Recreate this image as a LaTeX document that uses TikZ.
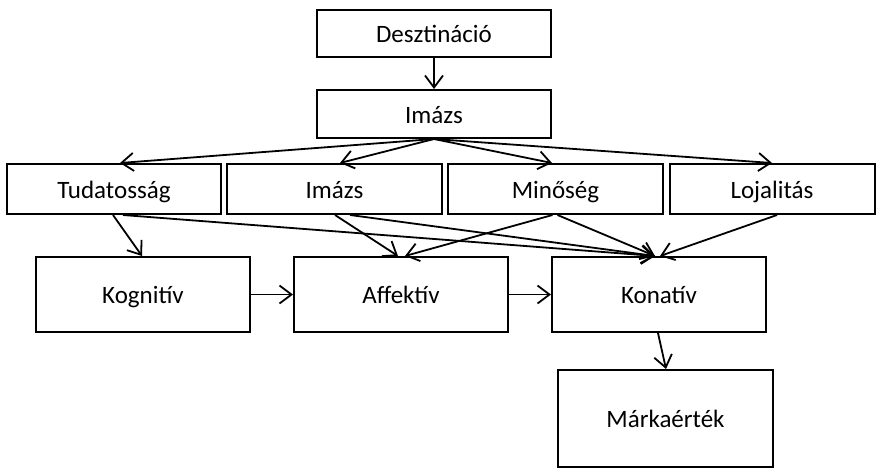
\documentclass[tikz,border=0pt]{standalone}
\usepackage{fontspec}
\setmainfont{Carlito}
\usetikzlibrary{arrows.meta}
\begin{document}
\begin{tikzpicture}[x=1pt,y=-1pt,
  box/.style={draw,line width=2pt,inner sep=0pt,text height=22pt,text depth=4pt,
    font=\fontsize{25}{28}\selectfont},
  conn/.style={line width=1.8pt,-{Straight Barb[length=12pt,width=18pt,line width=1.8pt]}}]
\useasboundingbox (0,0) rectangle (876,469);
% top chain
\node[box,minimum width=234pt,minimum height=47pt] (dest) at (434,33.5) {Desztináció};
\node[box,minimum width=234pt,minimum height=48pt] (img) at (434,114) {Imázs};
% dimension row
\node[box,minimum width=214pt,minimum height=50pt] (tud) at (114,189) {Tudatosság};
\node[box,minimum width=215pt,minimum height=50pt] (im2) at (334.5,189) {Imázs};
\node[box,minimum width=215pt,minimum height=50pt] (min) at (555.5,189) {Minőség};
\node[box,minimum width=205pt,minimum height=50pt] (loj) at (772,189) {Lojalitás};
% attitude row
\node[box,minimum width=214pt,minimum height=75pt] (kog) at (143,294.5) {Kognitív};
\node[box,minimum width=214pt,minimum height=75pt] (aff) at (401,294.5) {Affektív};
\node[box,minimum width=214pt,minimum height=75pt] (kon) at (659,294.5) {Konatív};
\node[box,minimum width=215pt,minimum height=97pt] (mar) at (665.5,418.5) {Márkaérték};
% connectors
\draw[conn] (dest.south) -- (img.north);
\draw[conn] (img.south) -- ([xshift=6pt]tud.north);
\draw[conn] (img.south) -- ([xshift=5.5pt]im2.north);
\draw[conn] (img.south) -- ([xshift=-3.5pt]min.north);
\draw[conn] (img.south) -- (loj.north);
\draw[conn] ([xshift=-1pt]tud.south) -- ([xshift=-1pt]kog.north);
\draw[conn] ([xshift=9pt]tud.south) -- ([xshift=-4pt]kon.north);
\draw[conn] ([xshift=0.5pt]im2.south) -- ([xshift=-3pt]aff.north);
\draw[conn] ([xshift=15.5pt]im2.south) -- ([xshift=-4pt]kon.north);
\draw[conn] ([xshift=-3pt]min.south) -- ([xshift=4pt]aff.north);
\draw[conn] ([xshift=2pt]min.south) -- ([xshift=-4pt]kon.north);
\draw[conn] ([xshift=5pt]loj.south) -- ([xshift=1pt]kon.north);
\draw[conn] (kog.east) -- (aff.west);
\draw[conn] (aff.east) -- (kon.west);
\draw[conn] ([xshift=-1pt]kon.south) -- ([xshift=0.5pt]mar.north);
\end{tikzpicture}
\end{document}
